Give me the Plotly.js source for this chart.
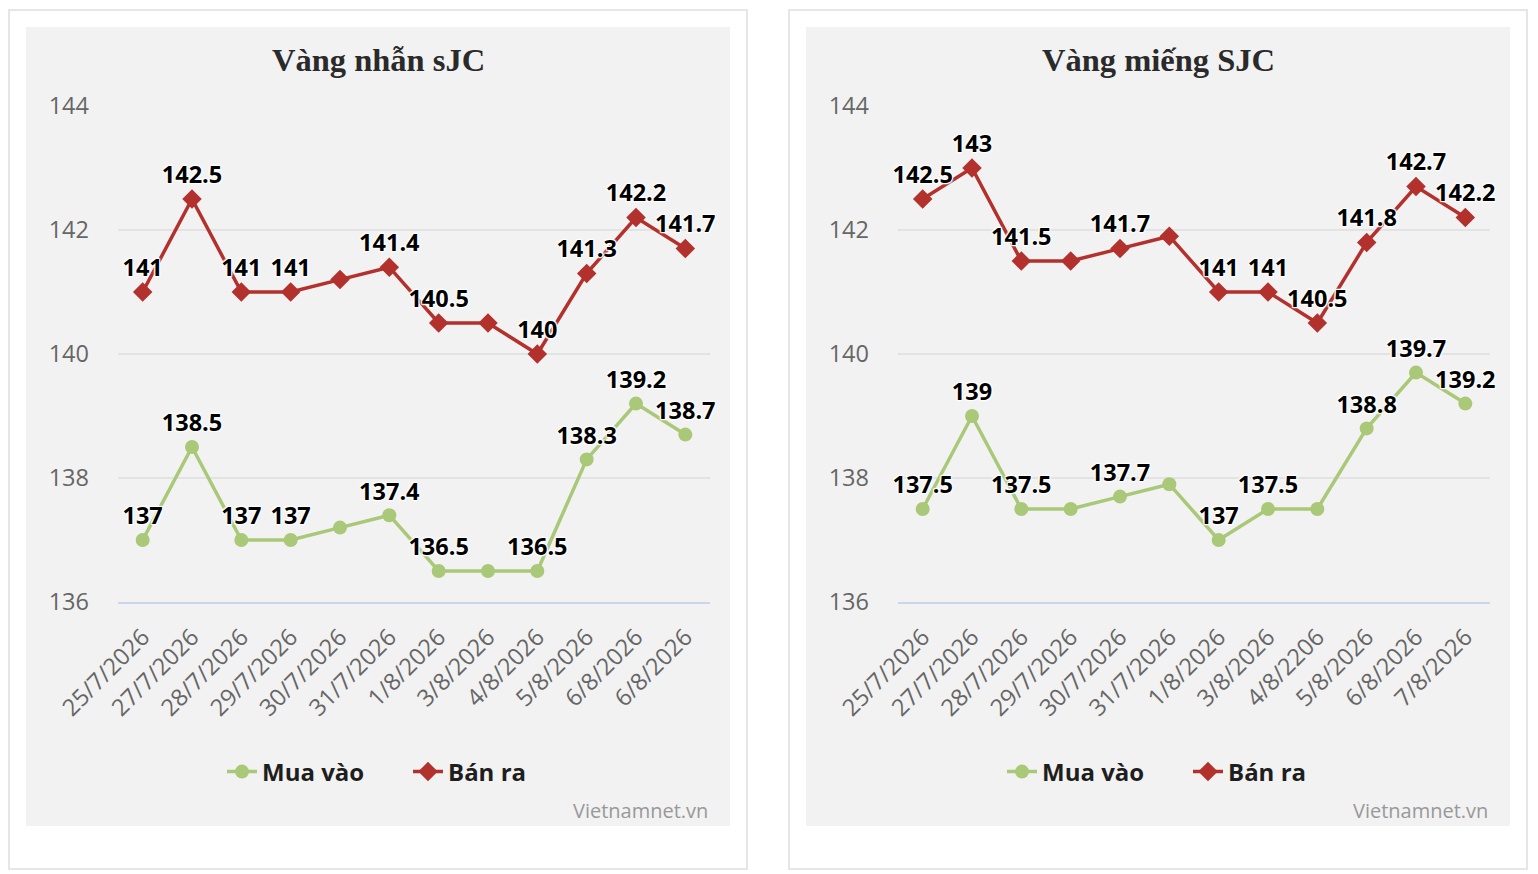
<!DOCTYPE html>
<html>
<head>
<meta charset="utf-8">
<script src="https://cdn.plot.ly/plotly-3.0.1.min.js"></script>
<style>
  html, body { margin: 0; padding: 0; background: #ffffff; }
  #chart { width: 1538px; height: 874px; }
</style>
</head>
<body>
<div id="chart"></div>
<script>
'use strict';

// dates as printed under each chart (left one repeats 6/8/2026)
const datesRing = ['25/7/2026', '27/7/2026', '28/7/2026', '29/7/2026', '30/7/2026', '31/7/2026',
                   '1/8/2026', '3/8/2026', '4/8/2026', '5/8/2026', '6/8/2026', '6/8/2026'];
const datesBar = ['25/7/2026', '27/7/2026', '28/7/2026', '29/7/2026', '30/7/2026', '31/7/2026',
                  '1/8/2026', '3/8/2026', '4/8/2206', '5/8/2026', '6/8/2026', '7/8/2026'];

// Vàng nhẫn sJC
const ringBuy = [137, 138.5, 137, 137, 137.2, 137.4, 136.5, 136.5, 136.5, 138.3, 139.2, 138.7];
const ringSell = [141, 142.5, 141, 141, 141.2, 141.4, 140.5, 140.5, 140, 141.3, 142.2, 141.7];
// Vàng miếng SJC
const barBuy = [137.5, 139, 137.5, 137.5, 137.7, 137.9, 137, 137.5, 137.5, 138.8, 139.7, 139.2];
const barSell = [142.5, 143, 141.5, 141.5, 141.7, 141.9, 141, 141, 140.5, 141.8, 142.7, 142.2];

// points whose value label is not printed
const ringBuyHidden = [4, 7];
const ringSellHidden = [4, 7];
const barBuyHidden = [3, 5, 8];
const barSellHidden = [3, 5];

const yTicks = [136, 138, 140, 142, 144];

const GREEN = '#a9c878',
      RED = '#b3312d',
      W = 1538,
      H = 874;

function px(x) { return x / W; }
function py(y) { return 1 - y / H; }

function labels(values, hidden) {
  return values.map(function (v, i) { return hidden.includes(i) ? '' : String(v); });
}

const halo = '1px 1px 1px #fff, -1px -1px 1px #fff, 1px -1px 1px #fff, -1px 1px 1px #fff, 0 0 3px #fff';

function series(name, values, hidden, color, symbol, xa, ya, legend) {
  return {
    type: 'scatter',
    mode: 'lines+markers+text',
    name: name,
    x: values.map(function (v, i) { return i; }),
    y: values,
    xaxis: xa,
    yaxis: ya,
    legend: legend,
    line: {color: color, width: 3.5},
    marker: {color: color, symbol: symbol, size: symbol === 'diamond' ? 15 : 14},
    text: labels(values, hidden),
    textposition: 'top center',
    textfont: {family: 'Open Sans, sans-serif', size: 23.5, color: '#000', weight: 700, shadow: halo},
    hoverinfo: 'x+y',
    cliponaxis: false
  };
}

const traces = [
  series('Mua vào', ringBuy, ringBuyHidden, GREEN, 'circle', 'x', 'y', 'legend'),
  series('Bán ra', ringSell, ringSellHidden, RED, 'diamond', 'x', 'y', 'legend'),
  series('Mua vào', barBuy, barBuyHidden, GREEN, 'circle', 'x2', 'y2', 'legend2'),
  series('Bán ra', barSell, barSellHidden, RED, 'diamond', 'x2', 'y2', 'legend2')
];

function xAxis(dates, domain, anchor) {
  return {
    domain: domain,
    anchor: anchor,
    range: [-0.5, 11.5],
    tickvals: dates.map(function (d, i) { return i; }),
    ticktext: dates,
    tickangle: -45,
    ticks: '',
    ticklabelstandoff: 10,
    tickfont: {family: 'Open Sans, sans-serif', size: 23.5, color: '#666'},
    showgrid: false,
    zeroline: false,
    showline: true,
    linecolor: '#ccd6eb',
    linewidth: 2,
    fixedrange: true
  };
}

function yAxis(anchor) {
  return {
    domain: [py(602), py(106)],
    anchor: anchor,
    range: [136, 144],
    tickvals: yTicks,
    ticks: '',
    ticklabelstandoff: 28,
    tickfont: {family: 'Open Sans, sans-serif', size: 23.5, color: '#666'},
    showgrid: true,
    gridcolor: '#e3e3e3',
    gridwidth: 1.5,
    zeroline: false,
    showline: false,
    fixedrange: true
  };
}

function legendAt(lx) {
  return {
    orientation: 'h',
    x: px(lx),
    xanchor: 'left',
    y: py(772),
    yanchor: 'middle',
    bgcolor: 'rgba(0,0,0,0)',
    font: {family: 'Open Sans, sans-serif', size: 24, color: '#1e1e1e', weight: 700},
    itemwidth: 30,
    entrywidth: 141,
    traceorder: 'normal'
  };
}

function panel(x0, x1) {
  return [
    {type: 'rect', xref: 'paper', yref: 'paper', layer: 'below',
     x0: px(x0), x1: px(x1), y0: py(869), y1: py(10),
     fillcolor: '#ffffff', line: {color: '#e6e6e6', width: 2}},
    {type: 'rect', xref: 'paper', yref: 'paper', layer: 'below',
     x0: px(x0 + 17), x1: px(x1 - 17), y0: py(826), y1: py(27),
     fillcolor: '#f2f2f2', line: {width: 0}}
  ];
}

function title(text, cx) {
  return {
    text: text, xref: 'paper', yref: 'paper', x: px(cx), y: py(60),
    xanchor: 'center', yanchor: 'middle', showarrow: false,
    font: {family: 'Liberation Serif, Times New Roman, serif', size: 32.5, color: '#2a2a2a', weight: 700}
  };
}

function source(rx) {
  return {
    text: 'Vietnamnet.vn', xref: 'paper', yref: 'paper', x: px(rx), y: py(810),
    xanchor: 'right', yanchor: 'middle', showarrow: false,
    font: {family: 'Open Sans, sans-serif', size: 20, color: '#999'}
  };
}

const layout = {
  width: W,
  height: H,
  margin: {l: 0, r: 0, t: 0, b: 0},
  paper_bgcolor: '#ffffff',
  plot_bgcolor: '#f2f2f2',
  showlegend: true,
  xaxis: xAxis(datesRing, [px(118), px(710)], 'y'),
  yaxis: yAxis('x'),
  xaxis2: xAxis(datesBar, [px(898), px(1490)], 'y2'),
  yaxis2: yAxis('x2'),
  legend: legendAt(222),
  legend2: legendAt(1002),
  shapes: panel(9, 747).concat(panel(789, 1527)),
  annotations: [
    title('Vàng nhẫn sJC', 378),
    title('Vàng miếng SJC', 1158),
    source(710),
    source(1490)
  ]
};

const config = {
  responsive: false,
  displayModeBar: false,
  staticPlot: true
};

Plotly.newPlot('chart', traces, layout, config);
</script>
</body>
</html>
